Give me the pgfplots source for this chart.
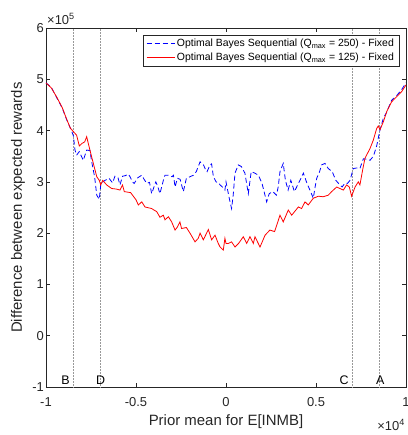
\documentclass[border=0pt]{standalone}
\usepackage{pgfplots}
\pgfplotsset{compat=1.18}
\usepackage{fontspec}
\setmainfont{Liberation Sans}
\definecolor{axgray}{rgb}{0.15,0.15,0.15}
\begin{document}
\begin{tikzpicture}
\begin{axis}[
  at={(0,0)}, anchor=south west,
  scale only axis, width=360bp, height=359bp,
  xmin=-1, xmax=1, ymin=-1, ymax=6,
  xtick={-1,-0.5,0,0.5,1}, xticklabels={-1,-0.5,0,0.5,1},
  ytick={-1,0,1,2,3,4,5,6}, yticklabels={-1,0,1,2,3,4,5,6},
  tick align=inside, major tick length=3.6bp,
  axis line style={axgray, line width=0.6bp},
  tick style={axgray, line width=0.6bp},
  every tick label/.append style={font=\fontsize{13}{15}\selectfont, text=axgray},
  xticklabel style={anchor=center, yshift=-15.5bp},
  yticklabel style={anchor=east, inner sep=2bp},
  legend style={at={(rel axis cs:0.981,0.981)}, anchor=north east,
    font=\fontsize{10.5}{12}\selectfont, draw=axgray, line width=0.6bp,
    inner xsep=3bp, inner ysep=2bp, row sep=1bp, cells={anchor=west}},
  legend image code/.code={\draw[#1] (0bp,0bp) -- (28bp,0bp);},
  legend cell align=left,
  clip=false,
]
% vertical reference lines
\addplot[gray!80, densely dotted, line width=0.5bp, forget plot] coordinates {(-0.85,-1) (-0.85,6)};
\addplot[gray!80, densely dotted, line width=0.5bp, forget plot] coordinates {(-0.70,-1) (-0.70,6)};
\addplot[gray!80, densely dotted, line width=0.5bp, forget plot] coordinates {(0.70,-1) (0.70,6)};
\addplot[gray!80, densely dotted, line width=0.5bp, forget plot] coordinates {(0.85,-1) (0.85,6)};

\addplot[blue, line width=0.8bp, dash pattern=on 5bp off 3bp] table {
x y
-1.0 4.93
-0.97 4.84
-0.94 4.64
-0.91 4.44
-0.885 4.21
-0.86 4.01
-0.848 3.90
-0.839 3.62
-0.83 3.52
-0.815 3.59
-0.793 3.42
-0.774 3.62
-0.756 3.61
-0.746 3.39
-0.73 3.10
-0.718 2.74
-0.704 2.66
-0.695 2.97
-0.672 3.03
-0.65 3.07
-0.63 2.98
-0.617 3.11
-0.60 3.08
-0.589 2.94
-0.575 3.11
-0.56 3.12
-0.543 3.15
-0.533 3.10
-0.52 3.0
-0.51 2.97
-0.49 3.08
-0.468 3.13
-0.455 3.05
-0.44 2.97
-0.425 2.99
-0.413 2.77
-0.40 2.90
-0.39 3.0
-0.38 2.92
-0.367 2.77
-0.348 3.03
-0.339 3.13
-0.32 3.13
-0.30 3.10
-0.292 3.13
-0.283 2.90
-0.27 3.07
-0.255 3.05
-0.237 2.81
-0.22 3.07
-0.20 3.10
-0.181 3.13
-0.165 3.2
-0.144 3.39
-0.125 3.33
-0.115 3.25
-0.105 3.20
-0.089 3.33
-0.08 3.35
-0.07 3.10
-0.055 3.0
-0.04 2.98
-0.033 2.94
-0.02 2.90
-0.006 2.84
0.0 3.0
0.02 2.65
0.031 2.48
0.04 2.74
0.05 3.17
0.068 3.33
0.085 3.30
0.105 3.17
0.124 2.77
0.14 3.2
0.16 3.17
0.18 3.13
0.2 2.97
0.226 2.61
0.24 2.77
0.26 2.81
0.28 2.74
0.29 2.90
0.30 3.2
0.318 3.36
0.33 3.03
0.345 2.84
0.36 3.03
0.38 2.81
0.411 3.03
0.43 3.17
0.45 2.97
0.47 2.81
0.485 2.68
0.495 2.90
0.504 3.07
0.52 3.2
0.531 3.33
0.55 3.36
0.568 3.26
0.59 3.20
0.61 3.03
0.633 2.94
0.645 2.90
0.66 2.97
0.675 2.97
0.689 3.03
0.707 3.26
0.725 3.27
0.744 3.26
0.763 3.45
0.785 3.44
0.80 3.42
0.819 3.50
0.837 3.70
0.856 4.02
0.875 4.25
0.89 4.34
0.92 4.59
0.948 4.68
0.976 4.80
1.0 4.93
};
\addlegendentry{Optimal Bayes Sequential (Q\textsubscript{max} = 250) - Fixed}

\addplot[red, line width=0.8bp] table {
x y
-1.0 4.93
-0.97 4.83
-0.94 4.65
-0.91 4.45
-0.885 4.22
-0.865 4.05
-0.848 3.98
-0.83 3.91
-0.815 3.70
-0.80 3.75
-0.785 3.78
-0.774 3.88
-0.756 3.62
-0.737 3.36
-0.718 3.10
-0.704 3.03
-0.696 2.94
-0.685 3.03
-0.663 2.94
-0.635 2.87
-0.61 2.86
-0.589 2.84
-0.575 2.94
-0.565 2.81
-0.53 2.79
-0.50 2.65
-0.487 2.55
-0.468 2.61
-0.45 2.51
-0.413 2.48
-0.40 2.45
-0.385 2.42
-0.367 2.31
-0.348 2.35
-0.339 2.26
-0.32 2.32
-0.302 2.22
-0.283 2.06
-0.27 2.12
-0.256 2.22
-0.247 2.09
-0.22 2.11
-0.20 2.0
-0.172 1.83
-0.154 1.90
-0.144 2.0
-0.126 1.87
-0.098 2.07
-0.08 1.87
-0.061 1.96
-0.043 1.80
-0.033 1.73
-0.015 1.67
-0.006 1.90
0.0 1.80
0.013 1.80
0.031 1.83
0.05 1.73
0.07 1.80
0.096 1.93
0.115 1.80
0.133 1.93
0.152 1.80
0.161 1.93
0.189 1.73
0.217 1.96
0.244 2.06
0.27 2.03
0.30 2.35
0.318 2.22
0.346 2.45
0.365 2.35
0.402 2.51
0.42 2.48
0.439 2.61
0.457 2.55
0.485 2.68
0.513 2.72
0.54 2.71
0.568 2.74
0.587 2.81
0.615 2.90
0.633 2.87
0.652 2.84
0.67 2.94
0.685 2.90
0.698 2.72
0.717 2.90
0.735 3.0
0.744 2.94
0.759 3.23
0.772 3.46
0.80 3.65
0.818 3.81
0.837 4.04
0.846 4.09
0.856 4.02
0.874 4.17
0.893 4.37
0.92 4.56
0.948 4.66
0.976 4.76
1.0 4.89
};
\addlegendentry{Optimal Bayes Sequential (Q\textsubscript{max} = 125) - Fixed}

% letters
\node[font=\fontsize{12.5}{14}\selectfont] at (axis cs:-0.891,-0.877) {B};
\node[font=\fontsize{12.5}{14}\selectfont] at (axis cs:-0.697,-0.877) {D};
\node[font=\fontsize{12.5}{14}\selectfont] at (axis cs:0.656,-0.877) {C};
\node[font=\fontsize{12.5}{14}\selectfont] at (axis cs:0.857,-0.877) {A};

% axis labels
\node[font=\fontsize{15}{17}\selectfont, text=axgray, anchor=center] at ([yshift=-35bp]rel axis cs:0.5,0) {Prior mean for E[INMB]};
\node[font=\fontsize{15}{17}\selectfont, text=axgray, anchor=center, rotate=90] at ([xshift=-28bp]rel axis cs:0,0.5) {Difference between expected rewards};
\node[font=\fontsize{13}{15}\selectfont, text=axgray, anchor=west, inner sep=0pt, xshift=1bp, yshift=9bp] at (rel axis cs:0,1) {×10\textsuperscript{5}};
\node[font=\fontsize{13}{15}\selectfont, text=axgray, anchor=east, inner sep=0pt, xshift=-1bp, yshift=-38bp] at (rel axis cs:1,0) {×10\textsuperscript{4}};
\end{axis}
\pgfresetboundingbox
\path[use as bounding box] (-46bp,-48bp) rectangle (362bp,387bp);
\end{tikzpicture}
\end{document}
